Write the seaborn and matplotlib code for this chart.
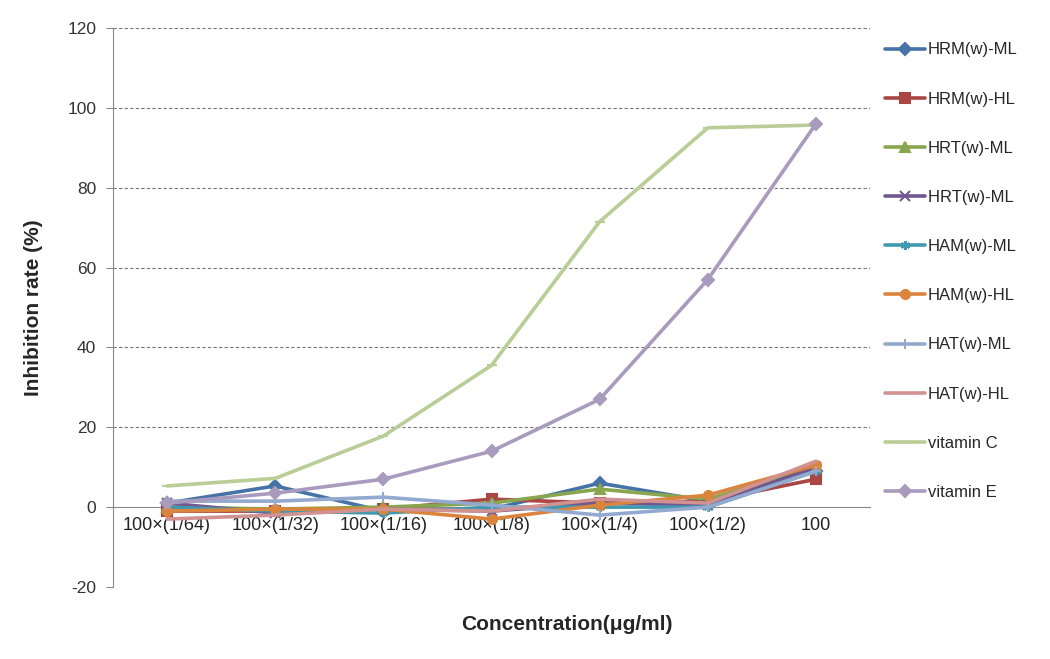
import matplotlib
matplotlib.use("Agg")
import matplotlib.pyplot as plt
import seaborn as sns
import numpy as np

categories = ["100×(1/64)", "100×(1/32)", "100×(1/16)", "100×(1/8)", "100×(1/4)", "100×(1/2)", "100"]

hrm_ml = [1.0, 5.3, -1.0, -0.5, 6.0, 1.5, 9.0]
hrm_hl = [-1.0, -1.0, -0.5, 2.0, 1.0, 1.5, 7.0]
hrt_ml_a = [0.0, -0.5, 0.0, 1.0, 4.5, 2.0, 10.0]
hrt_ml_b = [1.0, -1.5, -0.5, -1.0, 1.0, 0.5, 10.0]
ham_ml = [0.0, -1.0, -1.5, 0.0, 0.0, 0.0, 9.0]
ham_hl = [-1.0, -0.5, -0.5, -3.0, 0.5, 3.0, 10.5]
hat_ml = [1.5, 1.5, 2.5, 0.5, -2.0, 0.0, 9.0]
hat_hl = [-3.0, -2.0, -0.5, -1.0, 2.0, 1.0, 11.5]
vit_c = [5.3, 7.2, 17.8, 35.5, 71.5, 95.0, 95.7]
vit_e = [1.0, 3.5, 7.0, 14.0, 27.0, 57.0, 96.0]

series_names = ["HRM(w)-ML", "HRM(w)-HL", "HRT(w)-ML", "HRT(w)-ML", "HAM(w)-ML",
                "HAM(w)-HL", "HAT(w)-ML", "HAT(w)-HL", "vitamin C", "vitamin E"]
series_values = [hrm_ml, hrm_hl, hrt_ml_a, hrt_ml_b, ham_ml, ham_hl, hat_ml, hat_hl, vit_c, vit_e]
colors = ["#4572A7", "#AA4643", "#89A54E", "#71588F", "#4198AF",
          "#DB843D", "#93A9CF", "#D19392", "#B9CD96", "#A99BBD"]
markers = ["D", "s", "^", "x", (6, 2, 0), "o", "+", None, "_", "D"]

sns.set_style("white")
plt.rcParams["font.family"] = ["Liberation Sans", "DejaVu Sans"]
plt.rcParams["axes.unicode_minus"] = False

fig = plt.figure(figsize=(10.5, 6.59), dpi=100)
ax = fig.add_axes([0.1076, 0.1093, 0.7210, 0.8482])

x = np.arange(len(categories))
for i, (name, vals, col, mk) in enumerate(zip(series_names, series_values, colors, markers)):
    kw = dict(marker=mk, markersize=6.5, markeredgecolor=col, markerfacecolor=col, markeredgewidth=1.5) if mk is not None else {}
    sns.lineplot(x=x, y=vals, color=col, linewidth=2.6, label=name if i != 3 else name + " ", ax=ax, **kw)

for s in ["top", "right"]:
    ax.spines[s].set_visible(False)
ax.spines["bottom"].set_position(("data", 0))
ax.spines["bottom"].set_color("#888888")
ax.spines["left"].set_color("#888888")
ax.spines["bottom"].set_zorder(0)

ax.set_xlim(-0.5, 6.5)
ax.set_ylim(-20, 120)
ax.set_yticks(np.arange(-20, 121, 20))
ax.tick_params(axis="y", labelsize=12.5, labelcolor="#333333", length=5, direction="out",
               color="#888888", left=True, pad=7)
ax.set_xticks(x)
ax.set_xticklabels(categories)
ax.tick_params(axis="x", length=0, pad=7, labelsize=13, labelcolor="#222222")

for yv in range(20, 121, 20):
    ax.axhline(yv, color="#777777", linestyle=(0, (3, 2)), linewidth=0.8, zorder=0)

ax.set_ylabel("Inhibition rate (%)", fontsize=15, fontweight="bold")
ax.yaxis.set_label_coords(-0.093, 0.5)
ax.set_xlabel("")
fig.text(0.54, 0.052, "Concentration(μg/ml)", fontsize=15, fontweight="bold", ha="center", va="center")

leg = ax.legend(loc="upper left", bbox_to_anchor=(1.005, 0.995), frameon=False, fontsize=12,
                labelspacing=2.05, handlelength=2.4, handletextpad=0.15, borderaxespad=0.3)

fig.savefig("out.png", dpi=100)
